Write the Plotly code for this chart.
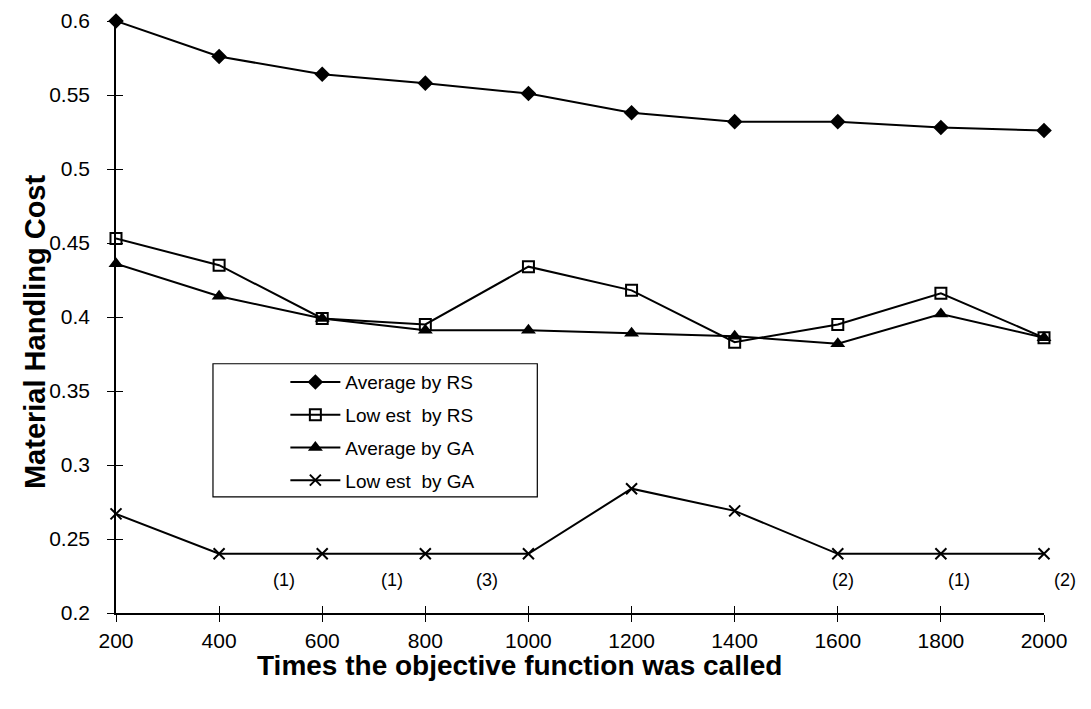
import plotly.graph_objects as go

calls = [200, 400, 600, 800, 1000, 1200, 1400, 1600, 1800, 2000]
avg_rs = [0.600, 0.576, 0.564, 0.558, 0.551, 0.538, 0.532, 0.532, 0.528, 0.526]
low_rs = [0.453, 0.435, 0.399, 0.395, 0.434, 0.418, 0.383, 0.395, 0.416, 0.386]
avg_ga = [0.436, 0.414, 0.399, 0.391, 0.391, 0.389, 0.387, 0.382, 0.402, 0.386]
low_ga = [0.267, 0.240, 0.240, 0.240, 0.240, 0.284, 0.269, 0.240, 0.240, 0.240]

note_x = [500, 710, 920, 1635, 1860, 2065]
note_text = ["(1)", "(1)", "(3)", "(2)", "(1)", "(2)"]
note_y = 0.222

series = [
    ("Average by RS", avg_rs, dict(symbol="diamond", size=12, color="black")),
    ("Low est  by RS", low_rs, dict(symbol="square-open", size=11, color="black", line=dict(width=2, color="black"))),
    ("Average by GA", avg_ga, dict(symbol="triangle-up", size=13, color="black")),
    ("Low est  by GA", low_ga, dict(symbol="x-thin-open", size=11, color="black", line=dict(width=2, color="black"))),
]

FONT = "Liberation Sans, Arial, sans-serif"
X0, X1 = calls[0], calls[-1]

fig = go.Figure()
for i, (name, vals, mk) in enumerate(series):
    fig.add_trace(go.Scatter(
        x=calls, y=vals, name=name, mode="lines+markers",
        line=dict(color="black", width=2), marker=mk,
        cliponaxis=False, legendgroup=f"g{i}",
    ))

# dummy trace so the overlay axes (inner half of crossing ticks) are drawn
fig.add_trace(go.Scatter(x=[X0], y=[avg_rs[0]], xaxis="x2", yaxis="y2",
                         mode="none", showlegend=False, hoverinfo="skip"))

for xv, t in zip(note_x, note_text):
    fig.add_annotation(x=(xv - X0) / (X1 - X0), xref="paper", y=note_y, yref="y",
                       text=t, showarrow=False,
                       font=dict(size=18, color="black", family=FONT))

# axis titles
fig.add_annotation(x=0.435, y=0, xref="paper", yref="paper", yshift=-52,
                   text="<b>Times the objective function was called</b>", showarrow=False,
                   xanchor="center", yanchor="middle",
                   font=dict(size=28, color="black", family=FONT))
fig.add_annotation(x=-0.087, y=0.475, xref="paper", yref="paper", textangle=-90,
                   text="<b>Material Handling Cost</b>", showarrow=False,
                   xanchor="center", yanchor="middle",
                   font=dict(size=29, color="black", family=FONT))

# legend box
fig.add_shape(type="rect", xref="paper", yref="paper",
              x0=0.1045, x1=0.454, y0=0.196, y1=0.421,
              line=dict(color="black", width=1.2), fillcolor="white", layer="below")

tick_common = dict(ticklen=7, tickcolor="black", tickwidth=1.2)
fig.update_layout(
    width=1083, height=701,
    margin=dict(l=108, r=47, t=13, b=96),
    paper_bgcolor="white", plot_bgcolor="white",
    font=dict(family=FONT, color="black", size=21),
    showlegend=True,
    legend=dict(x=0.1825, y=0.422, xanchor="left", yanchor="top",
                bgcolor="rgba(0,0,0,0)", borderwidth=0,
                font=dict(size=19, family=FONT), tracegroupgap=5,
                itemwidth=50),
    xaxis=dict(range=[X0, X1], tickvals=calls, showgrid=False, zeroline=False,
               showline=True, linecolor="black", linewidth=1.5, automargin=False,
               ticks="outside", ticklabelstandoff=1, **tick_common),
    yaxis=dict(range=[0.2, 0.6], dtick=0.05, tickformat="~g", showgrid=False, zeroline=False,
               showline=True, linecolor="black", linewidth=1.5, automargin=False,
               ticks="outside", ticklabelstandoff=13, **tick_common),
    xaxis2=dict(overlaying="x", matches="x", anchor="y2", side="bottom",
                tickvals=calls, showticklabels=False, showgrid=False, zeroline=False,
                ticks="inside", showline=False, **tick_common),
    yaxis2=dict(overlaying="y", matches="y", anchor="x2", side="left",
                dtick=0.05, showticklabels=False, showgrid=False, zeroline=False,
                ticks="inside", showline=False, **tick_common),
)

fig.write_html("out.html")
